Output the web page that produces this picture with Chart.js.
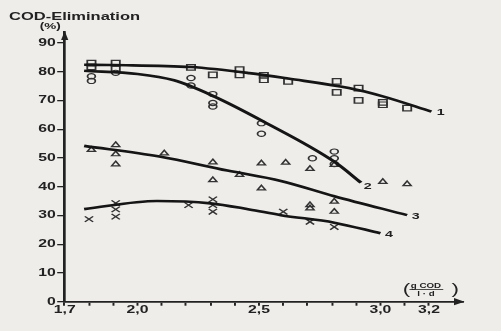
<!DOCTYPE html>
<html>
<head>
<meta charset="utf-8">
<script src="https://cdn.jsdelivr.net/npm/chart.js@4/dist/chart.umd.min.js"></script>
<style>
  html, body { margin: 0; padding: 0; background: #efedea; }
  #wrap { width: 501px; height: 331px; }
</style>
</head>
<body>
<div id="wrap"><canvas id="cod"></canvas></div>
<script>
// volumetric load, g COD / (l·d)
const xTicks = [1.7, 1.8, 1.9, 2.0, 2.1, 2.2, 2.3, 2.4, 2.5, 2.6, 2.7, 2.8, 2.9, 3.0, 3.1, 3.2];
const xLabelled = [1.7, 2.0, 2.5, 3.0, 3.2];
const yTicks = [0, 10, 20, 30, 40, 50, 60, 70, 80, 90];

// measurements: [load, COD elimination %]
const squares = [
  [1.81, 83.0], [1.81, 81.7], [1.91, 83.0], [1.91, 81.0], [2.22, 81.5],
  [2.31, 78.9], [2.42, 80.7], [2.42, 78.9], [2.52, 78.7], [2.52, 77.2],
  [2.62, 76.6], [2.82, 76.6], [2.82, 72.8], [2.91, 74.3], [2.91, 70.0],
  [3.01, 69.3], [3.01, 68.5], [3.11, 67.3]
];
const circles = [
  [1.81, 78.4], [1.81, 76.8], [1.91, 79.6], [2.22, 77.8], [2.22, 75.2],
  [2.31, 72.2], [2.31, 69.1], [2.31, 67.9], [2.51, 62.1], [2.51, 58.4],
  [2.72, 49.9], [2.81, 52.2], [2.81, 49.9], [2.81, 47.9]
];
const triangles = [
  [1.81, 52.8], [1.91, 54.5], [1.91, 51.3], [1.91, 47.8], [2.11, 51.6],
  [2.31, 48.5], [2.31, 42.3], [2.42, 44.1], [2.51, 48.1], [2.51, 39.4],
  [2.61, 48.4], [2.71, 46.2], [2.81, 47.6], [3.01, 41.7], [3.11, 40.9],
  [2.71, 33.6], [2.71, 32.5], [2.81, 34.8], [2.81, 31.3]
];
const crosses = [
  [1.80, 28.7], [1.91, 34.3], [1.91, 32.1], [1.91, 29.6], [2.21, 33.6],
  [2.31, 35.6], [2.31, 33.6], [2.31, 31.3], [2.60, 31.3], [2.71, 27.8],
  [2.81, 26.0]
];

// fitted curves 1-4
const curve1 = [[1.78, 82.4], [1.90, 82.3], [2.22, 81.6], [2.46, 79.5], [2.62, 77.6], [2.87, 74.3], [3.01, 71.4], [3.21, 66.1]];
const curve2 = [[1.78, 80.3], [2.00, 79.2], [2.15, 77.0], [2.31, 71.6], [2.52, 62.6], [2.81, 48.7], [2.92, 41.4]];
const curve3 = [[1.78, 54.2], [2.09, 50.5], [2.37, 45.6], [2.59, 42.0], [2.81, 36.7], [3.11, 30.1]];
const curve4 = [[1.78, 32.2], [2.08, 35.0], [2.30, 34.2], [2.46, 32.1], [2.59, 30.1], [2.81, 27.5], [3.00, 23.8]];
const curveNames = ['1', '2', '3', '4'];

// the whole figure is drawn 1.5x wider than it is tall
const SX = 1.5;
const INK = '#222';
const FONT = '"Liberation Sans", Arial, sans-serif';

const pts = arr => arr.map(([x, y]) => ({x, y}));

function markers(data, style, radius) {
  return {
    data: pts(data),
    pointStyle: style,
    pointRadius: radius,
    pointBorderWidth: 1.2,
    pointBorderColor: '#333',
    pointBackgroundColor: 'rgba(0,0,0,0)',
    showLine: false
  };
}

function curve(data) {
  return {
    data: pts(data),
    showLine: true,
    borderColor: '#151515',
    borderWidth: 2.6,
    pointRadius: 0,
    cubicInterpolationMode: 'monotone'
  };
}

const curves = [curve1, curve2, curve3, curve4];
// where each curve number sits next to its end
const nameOffsets = [[3.5, 1], [1.8, 4], [3, 1.5], [3, 1]];

const figure = {
  id: 'figure',
  beforeDraw(chart) {
    chart.ctx.save();
    chart.ctx.scale(SX, 1);
  },
  afterDraw(chart) {
    const ctx = chart.ctx;
    const {left, top, right, bottom} = chart.chartArea;
    const xs = chart.scales.x, ys = chart.scales.y;
    ctx.fillStyle = INK;

    // arrow heads
    ctx.beginPath();
    ctx.moveTo(left, top - 1);
    ctx.lineTo(left - 2.4, top + 8);
    ctx.lineTo(left + 2.4, top + 8);
    ctx.closePath();
    ctx.fill();
    ctx.beginPath();
    ctx.moveTo(right + 1, bottom);
    ctx.lineTo(right - 6, bottom - 3.6);
    ctx.lineTo(right - 6, bottom + 3.6);
    ctx.closePath();
    ctx.fill();

    // curve numbers
    ctx.font = 'bold 9.5px ' + FONT;
    ctx.textAlign = 'left';
    ctx.textBaseline = 'middle';
    curves.forEach((c, i) => {
      const end = c[c.length - 1];
      ctx.fillText(curveNames[i],
        xs.getPixelForValue(end[0]) + nameOffsets[i][0],
        ys.getPixelForValue(end[1]) + nameOffsets[i][1]);
    });

    // axis titles
    ctx.textBaseline = 'alphabetic';
    ctx.font = 'bold 11px ' + FONT;
    ctx.fillText('COD-Elimination', 6, 19.5);
    ctx.font = 'bold 9px ' + FONT;
    ctx.fillText('(%)', 26.5, 29);

    ctx.font = '15px ' + FONT;
    ctx.fillText('(', 268.5, 293.5);
    ctx.fillText(')', 301, 293.5);
    ctx.textAlign = 'center';
    ctx.font = 'bold 6.5px ' + FONT;
    ctx.fillText('g COD', 284, 287.8);
    ctx.fillText('l · d', 284, 295.5);
    ctx.fillRect(273, 289, 22.5, 0.8);

    ctx.restore();
  }
};

new Chart(document.getElementById('cod'), {
  type: 'scatter',
  data: {
    datasets: [
      ...curves.map(curve),
      markers(squares, 'rect', 3.9),
      markers(circles, 'circle', 2.6),
      markers(triangles, 'triangle', 3.1),
      markers(crosses, 'crossRot', 3.9)
    ]
  },
  options: {
    responsive: true,
    maintainAspectRatio: false,
    animation: false,
    events: [],
    layout: { padding: { top: 32, right: 501 - 463 / SX, bottom: 0, left: 0 } },
    plugins: { legend: { display: false }, title: { display: false }, tooltip: { enabled: false } },
    scales: {
      x: {
        type: 'linear',
        min: 1.7,
        max: 3.34,
        afterFit: s => { s.height = 29.3; },
        afterBuildTicks: s => { s.ticks = xTicks.map(v => ({value: v})); },
        ticks: {
          autoSkip: false,
          maxRotation: 0,
          padding: -2,
          color: INK,
          font: { family: FONT, size: 10.5, weight: 'bold' },
          callback: v => xLabelled.some(l => Math.abs(l - v) < 1e-6) ? v.toFixed(1).replace('.', ',') : ''
        },
        grid: { drawOnChartArea: false, drawTicks: true, tickLength: 4, color: INK, lineWidth: 1.3 },
        border: { display: true, color: INK, width: 1.8 }
      },
      y: {
        min: 0,
        max: 93.8,
        afterFit: s => { s.width = 64.7 / SX; },
        afterBuildTicks: s => { s.ticks = yTicks.map(v => ({value: v})); },
        ticks: {
          padding: 1,
          color: INK,
          font: { family: FONT, size: 10.5, weight: 'bold' }
        },
        grid: { drawOnChartArea: false, drawTicks: true, tickLength: 5, color: INK, lineWidth: 1.3 },
        border: { display: true, color: INK, width: 1.8 }
      }
    }
  },
  plugins: [figure]
});
</script>
</body>
</html>
